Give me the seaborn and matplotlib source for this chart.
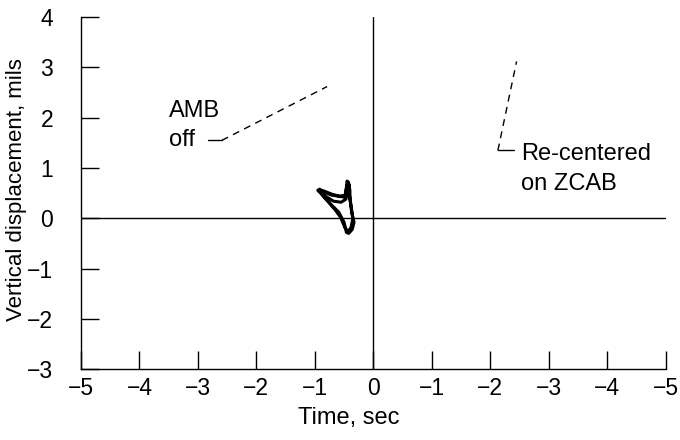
import matplotlib
matplotlib.use("Agg")
import matplotlib.pyplot as plt
import seaborn as sns
import pandas as pd

# ---- data ----
time_ticks = [-5, -4, -3, -2, -1, 0, 1, 2, 3, 4, 5]
time_labels = ["\u22125", "\u22124", "\u22123", "\u22122", "\u22121", "0",
               "\u22121", "\u22122", "\u22123", "\u22124", "\u22125"]
disp_ticks = [-3, -2, -1, 0, 1, 2, 3, 4]
disp_labels = ["\u22123", "\u22122", "\u22121", "0", "1", "2", "3", "4"]

orbit_x = [-0.92, -0.80, -0.71, -0.60, -0.49, -0.46, -0.45, -0.42, -0.40,
           -0.40, -0.37, -0.33, -0.36, -0.42, -0.46, -0.50, -0.59, -0.71,
           -0.82, -0.93, -0.84, -0.71, -0.58, -0.48, -0.46, -0.43, -0.41,
           -0.38, -0.35, -0.38, -0.43, -0.48, -0.56, -0.66, -0.78, -0.90,
           -0.95, -0.82, -0.68, -0.55, -0.47, -0.44, -0.41]
orbit_y = [0.58, 0.50, 0.46, 0.44, 0.42, 0.58, 0.74, 0.70, 0.55,
           0.38, 0.12, -0.08, -0.22, -0.30, -0.28, -0.08, 0.12, 0.26,
           0.40, 0.55, 0.54, 0.48, 0.44, 0.46, 0.62, 0.72, 0.48,
           0.25, 0.00, -0.18, -0.26, -0.20, 0.02, 0.18, 0.34, 0.50,
           0.56, 0.44, 0.34, 0.32, 0.38, 0.52, 0.66]

amb_leader_x = [-2.83, -2.59, -0.79]
amb_leader_y = [1.55, 1.55, 2.62]
zcab_leader_x = [2.40, 2.13, 2.45]
zcab_leader_y = [1.35, 1.35, 3.12]

# ---- figure ----
sns.set_theme(style="white")
plt.rcParams["font.family"] = ["Liberation Sans", "DejaVu Sans"]

fig = plt.figure(figsize=(6.8, 4.4), dpi=100)
ax = fig.add_axes([0.119, 0.161, 0.860, 0.800])

df = pd.DataFrame({"t": orbit_x, "d": orbit_y})
sns.lineplot(data=df, x="t", y="d", sort=False, estimator=None, ax=ax,
             color="black", linewidth=2.2)

ax.axhline(0, color="black", linewidth=1.0, zorder=1)
ax.axvline(0, color="black", linewidth=1.0, zorder=1)

ax.plot(amb_leader_x[:2], amb_leader_y[:2], color="black", linewidth=1.0)
ax.plot(amb_leader_x[1:], amb_leader_y[1:], color="black", linewidth=1.0,
        dashes=(5, 4))
ax.plot(zcab_leader_x[:2], zcab_leader_y[:2], color="black", linewidth=1.0)
ax.plot(zcab_leader_x[1:], zcab_leader_y[1:], color="black", linewidth=1.0,
        dashes=(5, 4))

fs = 17
ax.text(-3.50, 2.01, "AMB", fontsize=fs, ha="left", va="baseline",
        color="black")
ax.text(-3.50, 1.43, "off", fontsize=fs, ha="left", va="baseline",
        color="black")
ax.text(2.52, 1.15, "Re-centered", fontsize=fs, ha="left", va="baseline",
        color="black")
ax.text(2.52, 0.56, "on ZCAB", fontsize=fs, ha="left", va="baseline",
        color="black")

ax.set_xlim(-5, 5)
ax.set_ylim(-3, 4)
ax.set_xticks(time_ticks)
ax.set_xticklabels(time_labels)
ax.set_yticks(disp_ticks)
ax.set_yticklabels(disp_labels)

for s in ["top", "right"]:
    ax.spines[s].set_visible(False)
for s in ["left", "bottom"]:
    ax.spines[s].set_color("black")
    ax.spines[s].set_linewidth(1.0)

ax.tick_params(axis="both", direction="in", length=13, width=1.0,
               color="black", labelsize=16.5, labelcolor="black",
               bottom=True, left=True)
ax.tick_params(axis="y", pad=20)
ax.tick_params(axis="x", pad=6)

ax.set_xlabel("Time, sec", fontsize=fs, color="black", labelpad=5)
ax.xaxis.label.set_x(0.458)
ax.set_ylabel("Vertical displacement, mils", fontsize=16, color="black")
ax.yaxis.set_label_coords(-0.093, 0.51)

fig.savefig("out.png", dpi=100)
